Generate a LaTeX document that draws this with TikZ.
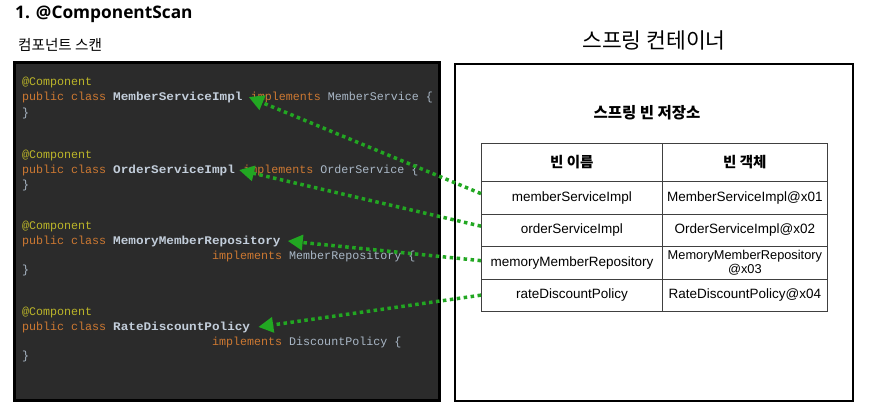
\documentclass[tikz,border=0pt]{standalone}
\usepackage{fontspec}
\usepackage{graphicx}
\setmainfont{Liberation Sans}
\newfontfamily\kr{Noto Sans CJK KR}
\newfontfamily\ttlfont{Open Sans}
\newfontfamily\codefont{Liberation Mono}
\usetikzlibrary{arrows.meta}
\definecolor{codebg}{HTML}{2B2B2B}
\definecolor{ann}{HTML}{BBB529}
\definecolor{kw}{HTML}{CC7832}
\definecolor{txt}{HTML}{A9B7C6}
\definecolor{clsname}{HTML}{C3CEDB}
\definecolor{grn}{HTML}{22A722}
\begin{document}
\begin{tikzpicture}[x=1pt,y=-1pt,
  code/.style={anchor=base west, inner sep=0pt, font=\codefont\fontsize{11.67}{14}\selectfont},
  clsn/.style={code, font=\codefont\bfseries\fontsize{11.67}{14}\selectfont, text=clsname},
  cell/.style={draw=black!75, line width=0.8pt, inner sep=0pt, anchor=north west, align=center,
    font=\fontsize{13.5}{15}\selectfont},
  hcell/.style={cell, font=\kr\bfseries\fontsize{14.5}{16}\selectfont},
  link/.style={draw=grn, line width=3.5pt, dash pattern=on 3.5pt off 3.5pt,
    -{Triangle[length=15pt,width=15pt,fill=grn]}}
]
\useasboundingbox (0,0) rectangle (869,408);
% titles
\node[anchor=west, inner sep=0pt, font=\ttlfont\bfseries\fontsize{17.3}{19}\selectfont] (ttl) at (15,14) {1. @ComponentScan};
\node[anchor=west, inner sep=0pt, font=\kr\fontsize{14.6}{16}\selectfont] (sub) at (18,45) {컴포넌트 스캔};
\node[inner sep=0pt, font=\kr\fontsize{21.5}{23}\selectfont] (ctitle) at (654,40) {스프링 컨테이너};
% code box
\draw[line width=3pt, fill=codebg] (14.5,62) rectangle (439.5,400.5);
% container box
\draw[line width=2.5pt] (455,64) rectangle (853,401);
\node[inner sep=0pt, font=\kr\bfseries\fontsize{15.5}{17}\selectfont] (store) at (647,113) {스프링 빈 저장소};
% code block 1
\node[code, text=ann] (a1) at (22,85) {@Component};
\node[code, text=kw] (p1) at (22,100) {public class};
\node[clsn] (n1) at (113,100) {\scalebox{1.086}[1]{MemberServiceImpl}};
\node[code] (i1) at ([xshift=8pt]n1.base east) {\textcolor{kw}{implements} \textcolor{txt}{MemberService \{}};
\node[code, text=txt] (b1) at (22,116) {\}};
% code block 2
\node[code, text=ann] (a2) at (22,158) {@Component};
\node[code, text=kw] (p2) at (22,173) {public class};
\node[clsn] (n2) at (113,173) {\scalebox{1.086}[1]{OrderServiceImpl}};
\node[code] (i2) at ([xshift=8pt]n2.base east) {\textcolor{kw}{implements} \textcolor{txt}{OrderService \{}};
\node[code, text=txt] (b2) at (22,188) {\}};
% code block 3
\node[code, text=ann] (a3) at (22,229) {@Component};
\node[code, text=kw] (p3) at (22,244) {public class};
\node[clsn] (n3) at (113,244) {\scalebox{1.086}[1]{MemoryMemberRepository}};
\node[code] (i3) at (212,259) {\textcolor{kw}{implements} \textcolor{txt}{MemberRepository \{}};
\node[code, text=txt] (b3) at (22,273) {\}};
% code block 4
\node[code, text=ann] (a4) at (22,315) {@Component};
\node[code, text=kw] (p4) at (22,330) {public class};
\node[clsn] (n4) at (113,330) {\scalebox{1.086}[1]{RateDiscountPolicy}};
\node[code] (i4) at (212,345) {\textcolor{kw}{implements} \textcolor{txt}{DiscountPolicy \{}};
\node[code, text=txt] (b4) at (22,359) {\}};
% table
\node[hcell, minimum width=181pt, minimum height=38pt] (h1) at (481,143) {빈 이름};
\node[hcell, minimum width=165pt, minimum height=38pt] (h2) at (662,143) {빈 객체};
\node[cell, minimum width=181pt, minimum height=32.5pt] (r1) at (481,181) {memberServiceImpl};
\node[cell, minimum width=165pt, minimum height=32.5pt] (v1) at (662,181) {MemberServiceImpl@x01};
\node[cell, minimum width=181pt, minimum height=32.5pt] (r2) at (481,213.5) {orderServiceImpl};
\node[cell, minimum width=165pt, minimum height=32.5pt] (v2) at (662,213.5) {OrderServiceImpl@x02};
\node[cell, minimum width=181pt, minimum height=32.5pt] (r3) at (481,246) {memoryMemberRepository};
\node[cell, minimum width=165pt, minimum height=32.5pt, font=\fontsize{12.8}{14}\selectfont] (v3) at (662,246) {MemoryMemberRepository\\[0pt]@x03};
\node[cell, minimum width=181pt, minimum height=32.5pt] (r4) at (481,278.5) {rateDiscountPolicy};
\node[cell, minimum width=165pt, minimum height=32.5pt] (v4) at (662,278.5) {RateDiscountPolicy@x04};
% arrows
\draw[link] ([yshift=4pt]r1.west) -- ([xshift=6pt]n1.east);
\draw[link] ([yshift=4pt]r2.west) -- ([xshift=4pt]n2.east);
\draw[link] ([yshift=2pt]r3.west) -- ([xshift=7pt]n3.east);
\draw[link] (r4.west) -- ([xshift=8pt]n4.east);
\end{tikzpicture}
\end{document}
